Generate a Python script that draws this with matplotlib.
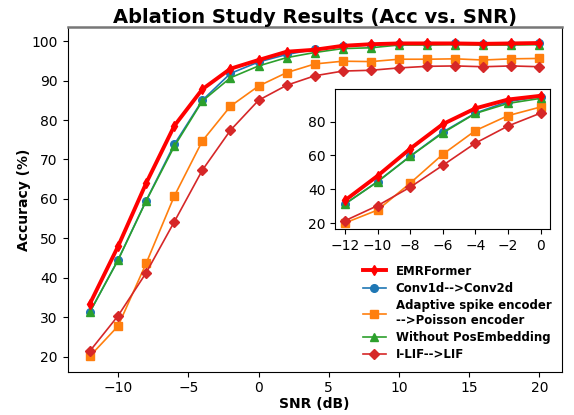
import matplotlib
matplotlib.use('Agg')
import matplotlib.pyplot as plt
import numpy as np

# SNR points
snr = np.arange(-12, 21, 2)

emrformer = [33.5, 48.0, 64.0, 78.5, 87.8, 93.0, 95.2, 97.3, 97.8, 98.8, 99.2, 99.4, 99.4, 99.4, 99.3, 99.4, 99.5]
conv2d = [31.4, 44.6, 59.6, 73.8, 85.0, 91.8, 94.7, 96.6, 97.9, 98.7, 99.0, 99.2, 99.2, 99.4, 99.2, 99.2, 99.4]
poisson = [20.2, 27.8, 43.7, 60.7, 74.7, 83.5, 88.6, 92.0, 94.2, 94.9, 94.8, 95.4, 95.4, 95.5, 95.2, 95.5, 95.6]
no_pos = [31.4, 44.5, 59.5, 73.3, 84.8, 90.7, 93.7, 95.8, 97.1, 98.1, 98.3, 99.0, 99.0, 99.1, 99.0, 99.0, 99.1]
lif = [21.5, 30.4, 41.3, 54.2, 67.3, 77.4, 85.0, 88.8, 91.2, 92.4, 92.6, 93.2, 93.6, 93.7, 93.5, 93.7, 93.5]

labels = ['EMRFormer', 'Conv1d-->Conv2d', 'Adaptive spike encoder\n-->Poisson encoder',
          'Without PosEmbedding', 'I-LIF-->LIF']
series = [emrformer, conv2d, poisson, no_pos, lif]
colors = ['red', 'tab:blue', 'tab:orange', 'tab:green', 'tab:red']
markers = ['d', 'o', 's', '^', 'D']
widths = [2.8, 1.2, 1.2, 1.2, 1.2]
zorders = [6, 3, 2, 4, 2]


def draw(ax, x, n=None):
    for y, lab, c, m, lw, z in zip(series, labels, colors, markers, widths, zorders):
        yy = y if n is None else y[:n]
        ax.plot(x, yy, color=c, marker=m, lw=lw, ms=5.5, label=lab, zorder=z)


fig = plt.figure(figsize=(5.74, 4.15), dpi=100)
ax = fig.add_axes([0.1176, 0.1043, 0.8614, 0.8297])
draw(ax, snr)
ax.set_title('Ablation Study Results (Acc vs. SNR)', fontsize=14, fontweight='bold', pad=3)
ax.set_xlabel('SNR (dB)', fontsize=10, fontweight='bold', labelpad=1)
ax.set_ylabel('Accuracy (%)', fontsize=10, fontweight='bold', labelpad=0.5)
ax.set_xticks([-10, -5, 0, 5, 10, 15, 20])
ax.set_yticks(range(20, 101, 10))
ax.tick_params(labelsize=10)
ax.spines['top'].set_color('#777777')
ax.spines['top'].set_linewidth(1.8)

handles, labs = ax.get_legend_handles_labels()
ax.legend(handles, labs, loc='lower right', frameon=False,
          prop={'weight': 'bold', 'size': 8.5}, handlelength=2.0, labelspacing=0.35)

# inset: low SNR region
axin = fig.add_axes([0.584, 0.4475, 0.375, 0.337])
draw(axin, snr[:7], 7)
axin.set_xticks(range(-12, 1, 2))
axin.set_yticks([20, 40, 60, 80])
axin.tick_params(labelsize=10)

plt.savefig('out.png', dpi=100)
